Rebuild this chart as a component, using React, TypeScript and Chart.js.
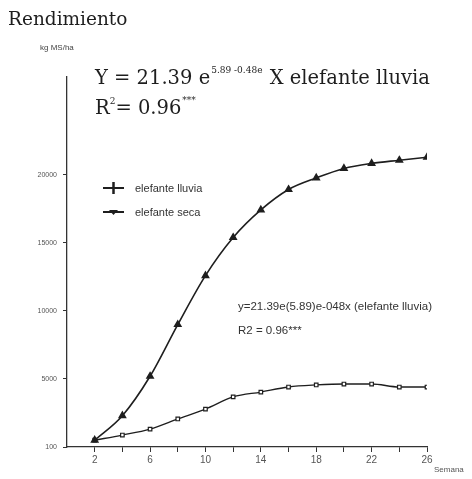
import React, { useEffect, useRef } from "react";
import { Chart, registerables } from "chart.js";

Chart.register(...registerables);

const weeks = [2, 4, 6, 8, 10, 12, 14, 16, 18, 20, 22, 24, 26];
const lluvia = [500, 2300, 5200, 9000, 12600, 15400, 17430, 18930, 19780, 20480, 20850, 21080, 21300];
const seca = [500, 880, 1320, 2060, 2790, 3680, 4040, 4410, 4560, 4630, 4630, 4410, 4410];
const yTickValues = [0, 5000, 10000, 15000, 20000];
const yTickLabels = ["100", "5000", "10000", "15000", "20000"];
const xLabelWeeks = [2, 6, 10, 14, 18, 22, 26];
const seriesNames = ["elefante lluvia", "elefante seca"];

const INK = "#1e1e1e";

const textPlugin = {
  id: "texts",
  afterDraw(chart: any) {
    const ctx = chart.ctx as CanvasRenderingContext2D;
    ctx.save();
    ctx.fillStyle = INK;
    ctx.textBaseline = "alphabetic";
    ctx.textAlign = "left";
    // Title
    ctx.font = "18.5px 'DejaVu Serif'";
    ctx.fillText("Rendimiento", 8, 25);
    ctx.font = "8px 'Liberation Sans Narrow', 'Liberation Sans'";
    ctx.fillStyle = "#444";
    ctx.fillText("kg MS/ha", 40, 50);
    // Equation
    ctx.fillStyle = INK;
    ctx.font = "19.5px 'DejaVu Serif'";
    let x = 95;
    const y1 = 84;
    const p1 = "Y = 21.39 e";
    ctx.fillText(p1, x, y1);
    x += ctx.measureText(p1).width + 1;
    ctx.font = "9px 'DejaVu Serif'";
    const sup = "5.89 -0.48e";
    ctx.fillText(sup, x, y1 - 11);
    x += ctx.measureText(sup).width + 1;
    ctx.font = "19.5px 'DejaVu Serif'";
    ctx.fillText(" X elefante lluvia", x, y1);
    // R2
    x = 95;
    const y2 = 114;
    ctx.fillText("R", x, y2);
    x += ctx.measureText("R").width;
    ctx.font = "9px 'DejaVu Serif'";
    ctx.fillText("2", x, y2 - 10);
    x += ctx.measureText("2").width;
    ctx.font = "19.5px 'DejaVu Serif'";
    ctx.fillText("= 0.96", x, y2);
    x += ctx.measureText("= 0.96").width + 1;
    ctx.font = "9px 'DejaVu Serif'";
    ctx.fillText("***", x, y2 - 11);

    // Annotation
    ctx.fillStyle = "#333";
    ctx.font = "11.5px 'Liberation Sans Narrow', 'Liberation Sans'";
    ctx.fillText("y=21.39e(5.89)e-048x (elefante lluvia)", 238, 310);
    ctx.fillText("R2 = 0.96***", 238, 334);

    // Legend
    const items = chart.data.datasets;
    const ly = [188, 212];
    items.forEach((ds: any, i: number) => {
      const yy = ly[i];
      ctx.strokeStyle = INK;
      ctx.lineWidth = 2;
      ctx.beginPath();
      ctx.moveTo(103, yy);
      ctx.lineTo(124, yy);
      ctx.stroke();
      ctx.fillStyle = INK;
      if (i === 0) {
        ctx.beginPath();
        ctx.moveTo(113.5, yy - 6);
        ctx.lineTo(113.5, yy + 6);
        ctx.lineWidth = 2.5;
        ctx.stroke();
      } else {
        ctx.beginPath();
        ctx.moveTo(109, yy - 2);
        ctx.lineTo(118, yy - 2);
        ctx.lineTo(113.5, yy + 3);
        ctx.closePath();
        ctx.fill();
      }
      ctx.fillStyle = "#333";
      ctx.font = "11px 'Liberation Sans Narrow', 'Liberation Sans'";
      ctx.fillText(ds.label, 135, yy + 4);
    });

    // Semana
    ctx.fillStyle = "#555";
    ctx.font = "8px 'Liberation Sans Narrow', 'Liberation Sans'";
    ctx.fillText("Semana", 434, 472);
    ctx.restore();
  },
};

export default function App() {
  const ref = useRef<HTMLCanvasElement | null>(null);
  useEffect(() => {
    if (!ref.current) return;
    const chart = new Chart(ref.current, {
      type: "line",
      data: {
        datasets: [
          {
            label: seriesNames[0],
            data: weeks.map((w, i) => ({ x: w, y: lluvia[i] })),
            borderColor: INK,
            backgroundColor: INK,
            borderWidth: 1.6,
            pointStyle: "triangle",
            pointRadius: 3.5,
            cubicInterpolationMode: "monotone",
          },
          {
            label: seriesNames[1],
            data: weeks.map((w, i) => ({ x: w, y: seca[i] })),
            borderColor: INK,
            backgroundColor: "#fff",
            borderWidth: 1.3,
            pointStyle: "rect",
            pointRadius: 2.5,
            pointBorderWidth: 1.2,
            cubicInterpolationMode: "monotone",
          },
        ],
      },
      options: {
        animation: false,
        responsive: false,
        maintainAspectRatio: false,
        layout: { padding: { left: 0, top: 77, right: 45, bottom: 0 } },
        plugins: { legend: { display: false }, tooltip: { enabled: false } },
        scales: {
          x: {
            type: "linear",
            min: 0,
            max: 26,
            afterFit: (s: any) => {
              s.height = 32;
            },
            afterBuildTicks: (s: any) => {
              const t = [];
              for (let v = 2; v <= 26; v += 2) t.push({ value: v });
              s.ticks = t;
            },
            border: { color: "#333", width: 1.3 },
            grid: { drawOnChartArea: false, tickLength: 5, color: "#333" },
            ticks: {
              color: "#555",
              font: { size: 10, family: "'Liberation Sans Narrow', 'Liberation Sans'" },
              padding: 2,
              maxRotation: 0,
              autoSkip: false,
              callback: (v: any) => (xLabelWeeks.includes(v) ? String(v) : ""),
            },
          },
          y: {
            type: "linear",
            min: 0,
            max: 27200,
            afterFit: (s: any) => {
              s.width = 67;
            },
            afterBuildTicks: (s: any) => {
              s.ticks = yTickValues.map((v) => ({ value: v }));
            },
            border: { color: "#333", width: 1.3 },
            grid: { drawOnChartArea: false, tickLength: 4, color: "#333" },
            ticks: {
              color: "#555",
              font: { size: 7, family: "'Liberation Sans Narrow', 'Liberation Sans'" },
              padding: 6,
              autoSkip: false,
              callback: (v: any) => {
                const i = yTickValues.indexOf(v);
                return i >= 0 ? yTickLabels[i] : "";
              },
            },
          },
        },
      },
      plugins: [textPlugin],
    } as any);
    return () => chart.destroy();
  }, []);
  return (
    <div style={{ position: "absolute", left: 0, top: 0, width: 472, height: 479, background: "#fff" }}>
      <canvas ref={ref} width={472} height={479} style={{ width: 472, height: 479, display: "block" }} />
    </div>
  );
}
